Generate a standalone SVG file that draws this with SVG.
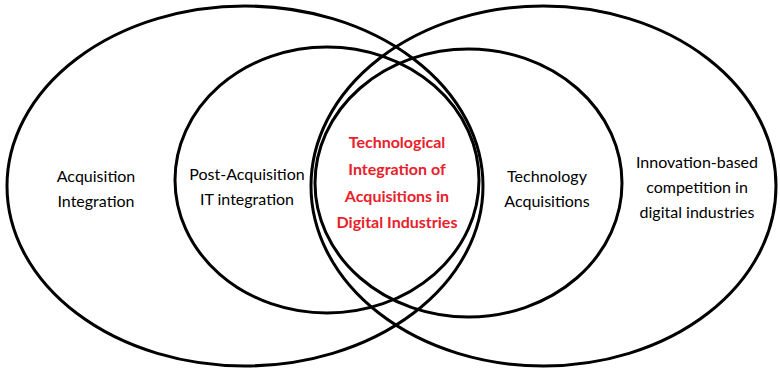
<svg xmlns="http://www.w3.org/2000/svg" width="780" height="371" viewBox="0 0 780 371">
<style>
.ring{fill:none;stroke:#000;stroke-width:3}
.lbl{font-family:Lato,"Open Sans",sans-serif;font-size:16px;fill:#000;text-anchor:middle}
.core{font-family:Lato,"Open Sans",sans-serif;font-size:16px;font-weight:bold;fill:#e8212b;text-anchor:middle}
</style>
<rect width="780" height="371" fill="#fff"/>
<g id="connectors"></g>
<g id="acq-integration">
<ellipse class="ring" cx="245" cy="186" rx="238" ry="180"/>
<text class="lbl" x="96" y="182">Acquisition</text>
<text class="lbl" x="96" y="207">Integration</text>
</g>
<g id="innovation">
<ellipse class="ring" cx="543.5" cy="186" rx="232.5" ry="180"/>
<text class="lbl" x="697" y="168">Innovation-based</text>
<text class="lbl" x="697" y="193">competition in</text>
<text class="lbl" x="697" y="218">digital industries</text>
</g>
<g id="post-acq-it">
<ellipse class="ring" cx="327" cy="180" rx="152" ry="133"/>
<text class="lbl" x="247" y="180">Post-Acquisition</text>
<text class="lbl" x="247" y="205">IT integration</text>
</g>
<g id="tech-acq">
<ellipse class="ring" cx="468.5" cy="183" rx="153.5" ry="134"/>
<text class="lbl" x="547" y="182">Technology</text>
<text class="lbl" x="547" y="207">Acquisitions</text>
</g>
<g id="core">
<text class="core" x="397" y="148">Technological</text>
<text class="core" x="397" y="175">Integration of</text>
<text class="core" x="397" y="202">Acquisitions in</text>
<text class="core" x="397" y="228">Digital Industries</text>
</g>
</svg>
